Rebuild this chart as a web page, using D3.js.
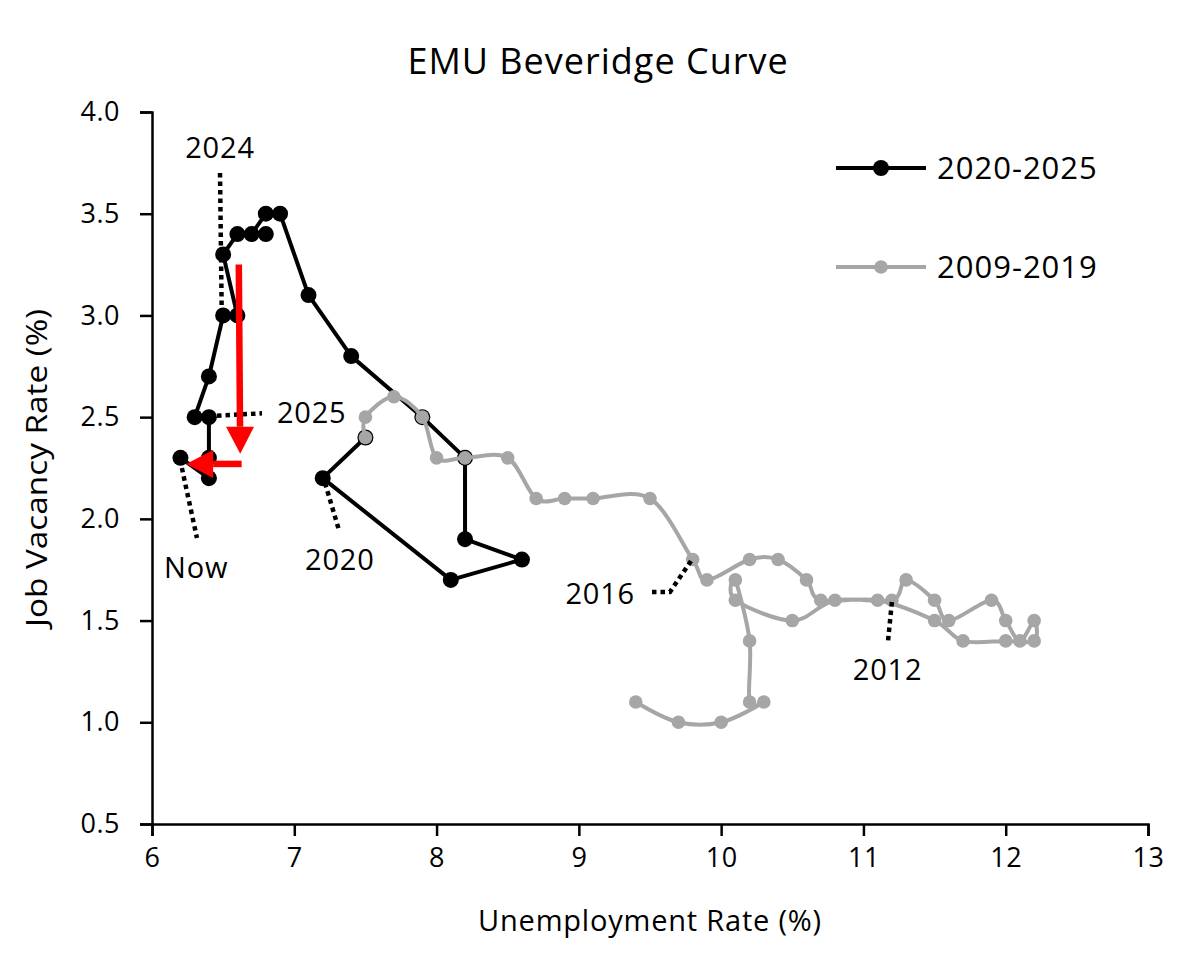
<!DOCTYPE html>
<html>
<head>
<meta charset="utf-8">
<script src="https://cdn.jsdelivr.net/npm/d3@7"></script>
<style>
	body { margin: 0; background: #fff; }
	text { font-family: "Open Sans", Lato, sans-serif; fill: #000; }
</style>
</head>
<body>
<svg id="chart"></svg>
<script>
// DATA

var seriesNames = ["2020-2025", "2009-2019"];

// 2020-2025 (unemployment %, vacancy %)
var recentU = [7.5, 7.2, 8.1, 8.6, 8.2, 8.2, 7.9, 7.4, 7.1, 6.9, 6.8, 6.7, 6.8, 6.6, 6.5, 6.6, 6.5, 6.4, 6.3, 6.4, 6.4, 6.4, 6.2];
var recentV = [2.4, 2.2, 1.7, 1.8, 1.9, 2.3, 2.5, 2.8, 3.1, 3.5, 3.5, 3.4, 3.4, 3.4, 3.3, 3.0, 3.0, 2.7, 2.5, 2.5, 2.3, 2.2, 2.3];

// 2009-2019
var pastU = [9.4, 9.7, 10.0, 10.3, 10.2, 10.2, 10.1, 10.1, 10.5, 10.8, 11.2, 11.3, 11.5, 11.6, 11.9, 12.0, 12.1, 12.2, 12.2, 12.0,
	11.7, 11.5, 11.1, 10.7, 10.6, 10.4, 10.2, 9.9, 9.8, 9.5, 9.1, 8.9, 8.7, 8.5, 8.2, 8.0, 7.9, 7.7, 7.5, 7.5];
var pastV = [1.1, 1.0, 1.0, 1.1, 1.1, 1.4, 1.7, 1.6, 1.5, 1.6, 1.6, 1.7, 1.6, 1.5, 1.6, 1.5, 1.4, 1.5, 1.4, 1.4,
	1.4, 1.5, 1.6, 1.6, 1.7, 1.8, 1.8, 1.7, 1.8, 2.1, 2.1, 2.1, 2.1, 2.3, 2.3, 2.3, 2.5, 2.6, 2.5, 2.4];

var xTicks = [6, 7, 8, 9, 10, 11, 12, 13];
var yTicks = [0.5, 1.0, 1.5, 2.0, 2.5, 3.0, 3.5, 4.0];

// year call-outs: label, leader line (data coords), text anchor point
var noteText = ["2024", "2025", "Now", "2020", "2016", "2012"];
var noteLines = [
	[[6.478, 3.70], [6.49, 3.01]],
	[[6.457, 2.507], [6.773, 2.519]],
	[[6.21, 2.25], [6.316, 1.906]],
	[[7.216, 2.176], [7.314, 1.945]],
	[[9.788, 1.793], [9.64, 1.64], [9.493, 1.64]],
	[[11.2, 1.591], [11.172, 1.394]]
];
var noteAt = [[6.478, 3.823], [6.878, 2.52], [6.31, 1.76], [7.32, 1.80], [9.394, 1.63], [11.17, 1.257]];
var noteAnchor = ["middle", "start", "middle", "middle", "end", "middle"];

// red arrows: [from, to]
var arrows = [
	[[6.61, 3.25], [6.62, 2.32]],
	[[6.63, 2.27], [6.24, 2.27]]
];

// DIMENSIONS

var width = 1195,
	height = 961,
	plotLeft = 152, plotRight = 1148,
	plotTop = 112, plotBottom = 824;

var svg = d3.select("#chart")
	.attr('width', width)
	.attr('height', height);

var x = d3.scaleLinear().domain([6, 13]).range([plotLeft, plotRight]);
var y = d3.scaleLinear().domain([0.5, 4]).range([plotBottom, plotTop]);

// title
svg.append('text')
	.attr('x', 598).attr('y', 74)
	.attr('text-anchor', 'middle')
	.style('font-size', '36px')
	.style('letter-spacing', '1px')
	.text('EMU Beveridge Curve');

// axes
var xAxis = d3.axisBottom(x).tickValues(xTicks).tickFormat(d3.format('d')).tickSizeOuter(0).tickSize(12).tickPadding(12);
var yAxis = d3.axisLeft(y).tickValues(yTicks).tickFormat(d3.format('.1f')).tickSizeOuter(0).tickSize(12).tickPadding(20);

var gx = svg.append('g').attr('transform', 'translate(0,' + plotBottom + ')').call(xAxis);
var gy = svg.append('g').attr('transform', 'translate(' + plotLeft + ',0)').call(yAxis);
[gx, gy].forEach(function(g) {
	g.select('.domain').attr('stroke', '#000').attr('stroke-width', 2.5);
	g.selectAll('line').attr('stroke', '#000').attr('stroke-width', 2.5);
	g.selectAll('text').style('font-size', '27px').style('letter-spacing', '0.5px')
		.style('font-family', '"Open Sans", sans-serif').attr('fill', '#000');
});

svg.append('text')
	.attr('x', 650).attr('y', 931)
	.attr('text-anchor', 'middle')
	.style('font-size', '29px')
	.style('letter-spacing', '0.8px')
	.text('Unemployment Rate (%)');

svg.append('text')
	.attr('transform', 'translate(47,468) rotate(-90)')
	.attr('text-anchor', 'middle')
	.attr('textLength', 318)
	.attr('lengthAdjust', 'spacingAndGlyphs')
	.style('font-size', '30px')
	.text('Job Vacancy Rate (%)');

// SERIES

var recent = recentU.map(function(u, i) { return [u, recentV[i]]; });
var past = pastU.map(function(u, i) { return [u, pastV[i]]; });

var straight = d3.line().x(function(d) { return x(d[0]); }).y(function(d) { return y(d[1]); });
var smooth = d3.line().x(function(d) { return x(d[0]); }).y(function(d) { return y(d[1]); })
	.curve(d3.curveCatmullRom.alpha(0));

svg.append('path')
	.attr('d', straight(recent))
	.attr('fill', 'none')
	.attr('stroke', '#000')
	.attr('stroke-width', 4)
	.attr('stroke-linejoin', 'round');

svg.append('g').selectAll('circle').data(recent)
	.enter().append('circle')
	.attr('cx', function(d) { return x(d[0]); })
	.attr('cy', function(d) { return y(d[1]); })
	.attr('r', 8)
	.attr('fill', '#000');

svg.append('path')
	.attr('d', smooth(past))
	.attr('fill', 'none')
	.attr('stroke', '#a6a6a6')
	.attr('stroke-width', 4);

svg.append('g').selectAll('circle').data(past)
	.enter().append('circle')
	.attr('cx', function(d) { return x(d[0]); })
	.attr('cy', function(d) { return y(d[1]); })
	.attr('r', 6.8)
	.attr('fill', '#a6a6a6');

// call-outs
noteLines.forEach(function(pts, i) {
	svg.append('path')
		.attr('d', straight(pts))
		.attr('fill', 'none')
		.attr('stroke', '#000')
		.attr('stroke-width', 4.5)
		.attr('stroke-dasharray', '4.5,4');
	svg.append('text')
		.attr('x', x(noteAt[i][0]))
		.attr('y', y(noteAt[i][1]))
		.attr('dy', '0.35em')
		.attr('text-anchor', noteAnchor[i])
		.style('font-size', '29px')
		.style('letter-spacing', '0.8px')
		.text(noteText[i]);
});

// red arrows
arrows.forEach(function(a) {
	var x0 = x(a[0][0]), y0 = y(a[0][1]), x1 = x(a[1][0]), y1 = y(a[1][1]);
	var dx = x1 - x0, dy = y1 - y0, len = Math.sqrt(dx*dx + dy*dy);
	var ux = dx/len, uy = dy/len, headLen = 27, headHalf = 14;
	var bx = x1 - ux*headLen, by = y1 - uy*headLen;
	svg.append('line')
		.attr('x1', x0).attr('y1', y0).attr('x2', bx).attr('y2', by)
		.attr('stroke', '#ff0000').attr('stroke-width', 6.5);
	svg.append('path')
		.attr('d', 'M' + x1 + ',' + y1 + 'L' + (bx - uy*headHalf) + ',' + (by + ux*headHalf) +
			'L' + (bx + uy*headHalf) + ',' + (by - ux*headHalf) + 'Z')
		.attr('fill', '#ff0000');
});

// LEGEND

var legend = svg.append('g');
[{ name: seriesNames[0], color: '#000', r: 8, y: 168 }, { name: seriesNames[1], color: '#a6a6a6', r: 6.8, y: 267 }]
	.forEach(function(d) {
		legend.append('line')
			.attr('x1', 836).attr('x2', 926).attr('y1', d.y).attr('y2', d.y)
			.attr('stroke', d.color).attr('stroke-width', 4);
		legend.append('circle')
			.attr('cx', 881).attr('cy', d.y).attr('r', d.r).attr('fill', d.color);
		legend.append('text')
			.attr('x', 937).attr('y', d.y).attr('dy', '0.35em')
			.style('font-size', '31px')
			.style('letter-spacing', '1px')
			.text(d.name);
	});
</script>
</body>
</html>
